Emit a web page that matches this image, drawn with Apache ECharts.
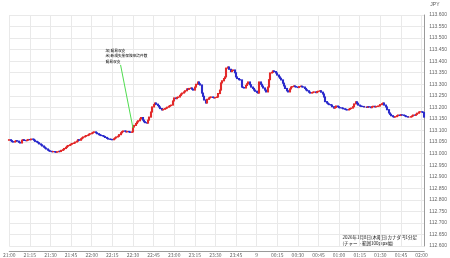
<!DOCTYPE html>
<html><head><meta charset="utf-8">
<script src="https://cdn.jsdelivr.net/npm/echarts@6/dist/echarts.min.js"></script>
<style>html,body{margin:0;padding:0;background:#fff}#c{width:450px;height:258px}</style>
</head><body><div id="c"></div>
<script>
// 1-minute closes, 21:00 .. 02:02 (JST)
const startTime = "21:00";
const closes = [
113.060,113.056,113.052,113.050,113.053,113.056,113.054,113.049,113.046,113.058,
113.060,113.057,113.056,113.058,113.061,113.060,113.063,113.062,113.058,113.053,
113.050,113.047,113.042,113.038,113.033,113.028,113.024,113.020,113.015,113.012,
113.010,113.008,113.009,113.007,113.006,113.008,113.010,113.009,113.014,113.017,
113.022,113.027,113.032,113.035,113.038,113.041,113.044,113.046,113.050,113.054,
113.060,113.058,113.064,113.068,113.072,113.075,113.078,113.080,113.084,113.086,
113.089,113.092,113.094,113.090,113.086,113.082,113.080,113.078,113.076,113.074,
113.070,113.066,113.063,113.062,113.061,113.060,113.064,113.068,113.072,113.075,
113.082,113.090,113.095,113.098,113.097,113.094,113.096,113.094,113.092,113.094,
113.115,113.122,113.130,113.137,113.142,113.150,113.156,113.145,113.138,113.134,
113.132,113.145,113.158,113.180,113.202,113.212,113.219,113.214,113.208,113.202,
113.195,113.189,113.192,113.195,113.197,113.201,113.205,113.208,113.210,113.228,
113.241,113.238,113.243,113.245,113.252,113.258,113.262,113.267,113.272,113.280,
113.278,113.282,113.284,113.279,113.275,113.288,113.300,113.310,113.302,113.297,
113.262,113.248,113.232,113.219,113.235,113.241,113.244,113.245,113.243,113.241,
113.243,113.245,113.260,113.275,113.306,113.315,113.325,113.332,113.370,113.375,
113.365,113.355,113.360,113.362,113.350,113.332,113.325,113.320,113.319,113.288,
113.286,113.284,113.295,113.302,113.310,113.298,113.288,113.282,113.275,113.270,
113.265,113.262,113.310,113.300,113.292,113.284,113.275,113.267,113.288,113.320,
113.349,113.352,113.358,113.355,113.349,113.340,113.332,113.326,113.319,113.305,
113.293,113.282,113.272,113.267,113.280,113.288,113.290,113.293,113.290,113.288,
113.286,113.290,113.292,113.289,113.288,113.282,113.276,113.272,113.266,113.262,
113.264,113.266,113.267,113.264,113.268,113.270,113.272,113.266,113.258,113.245,
113.225,113.219,113.215,113.212,113.210,113.203,113.197,113.200,113.206,113.203,
113.199,113.198,113.197,113.194,113.192,113.190,113.189,113.192,113.195,113.197,
113.203,113.215,113.224,113.218,113.210,113.206,113.205,113.204,113.202,113.202,
113.200,113.203,113.202,113.199,113.203,113.205,113.202,113.204,113.206,113.206,
113.212,113.216,113.219,113.210,113.202,113.190,113.176,113.170,113.164,113.160,
113.158,113.160,113.164,113.167,113.165,113.168,113.167,113.165,113.163,113.160,
113.158,113.158,113.160,113.163,113.167,113.166,113.170,113.175,113.180,113.181,
113.180,113.178,113.158
];
const firstOpen = 113.058;
const tickLabels = ["21:00","21:15","21:30","21:45","22:00","22:15","22:30","22:45","23:00","23:15","23:30","23:45","9","00:15","00:30","00:45","01:00","01:15","01:30","01:45","02:00"];
const yTicks = {min:112.6, max:113.6, step:0.05};
const noteLines = ["加)貿易収支","米)新規失業保険申請件数","貿易収支"];
const noteFrom = ["22:21", 113.384];
const noteTo = ["22:30", 113.111];
const footer = ["2026年1月8日(木曜日)カナダ円1分足","(チャート範囲100pips幅)"];

const cats = [];
{
  let [h, m] = startTime.split(":").map(Number);
  for (let i = 0; i < closes.length; i++) {
    cats.push(String(h).padStart(2,"0") + ":" + String(m).padStart(2,"0"));
    m++; if (m === 60) { m = 0; h = (h + 1) % 24; }
  }
}
const candles = closes.map((c, i) => {
  const o = i === 0 ? firstOpen : closes[i-1];
  return [o, c, Math.min(o,c), Math.max(o,c)];
});
const labelSet = new Set(tickLabels.map(t => t === "9" ? "00:00" : t));

const chart = echarts.init(document.getElementById('c'), null, {renderer:'canvas'});
chart.setOption({
  animation:false,
  backgroundColor:'#fff',
  grid:{left:0, right:22, top:15, bottom:12},
  xAxis:{
    type:'category', data:cats, boundaryGap:false, offset:5,
    axisLine:{lineStyle:{color:'#9a9a9a', width:1}},
    axisTick:{show:false},
    axisLabel:{fontSize:5, color:'#666', margin:2, interval:(i,v)=>labelSet.has(v),
      formatter:v => v === "00:00" ? "9" : v, fontFamily:'Noto Sans CJK JP'},
    splitLine:{show:true, interval:(i,v)=>labelSet.has(v), lineStyle:{color:'#e9e9e9', width:1}}
  },
  yAxis:{
    type:'value', position:'right', min:yTicks.min, max:yTicks.max, interval:yTicks.step,
    name:'JPY', nameLocation:'end', nameGap:8,
    nameTextStyle:{fontSize:5, color:'#555', align:'left', padding:[0,0,0,6]},
    axisLine:{show:true, lineStyle:{color:'#9a9a9a', width:1}},
    axisTick:{show:false},
    axisLabel:{fontSize:5, color:'#666', margin:5, formatter:v=>v.toFixed(3)},
    splitLine:{show:true, lineStyle:{color:'#e9e9e9', width:1}}
  },
  series:[{
    type:'candlestick', data:candles, barWidth:1.5,
    itemStyle:{color:'#e32a2a', color0:'#2b2bcc', borderColor:'#e32a2a', borderColor0:'#2b2bcc', borderWidth:1.1},
    markLine:{silent:true, symbol:['none','none'], label:{show:false},
      lineStyle:{color:'#4fdc4f', width:1, type:'solid'},
      data:[[{coord:noteFrom},{coord:noteTo}]]},
    markPoint:{silent:true, symbol:'circle', symbolSize:0,
      data:[{coord:noteFrom, label:{show:true, position:'top', distance:1, align:'left', offset:[-15,0],
        formatter:noteLines.join('\n'), fontSize:3.7, lineHeight:5.3, color:'#000', fontFamily:'Noto Sans CJK JP'}}]}
  }],
  graphic:[{type:'text', right:33, top:234, style:{text:footer.join('\n'), fontSize:4.5, lineHeight:6, fill:'#111', align:'right', fontFamily:'Noto Sans CJK JP'}}]
});
</script></body></html>
